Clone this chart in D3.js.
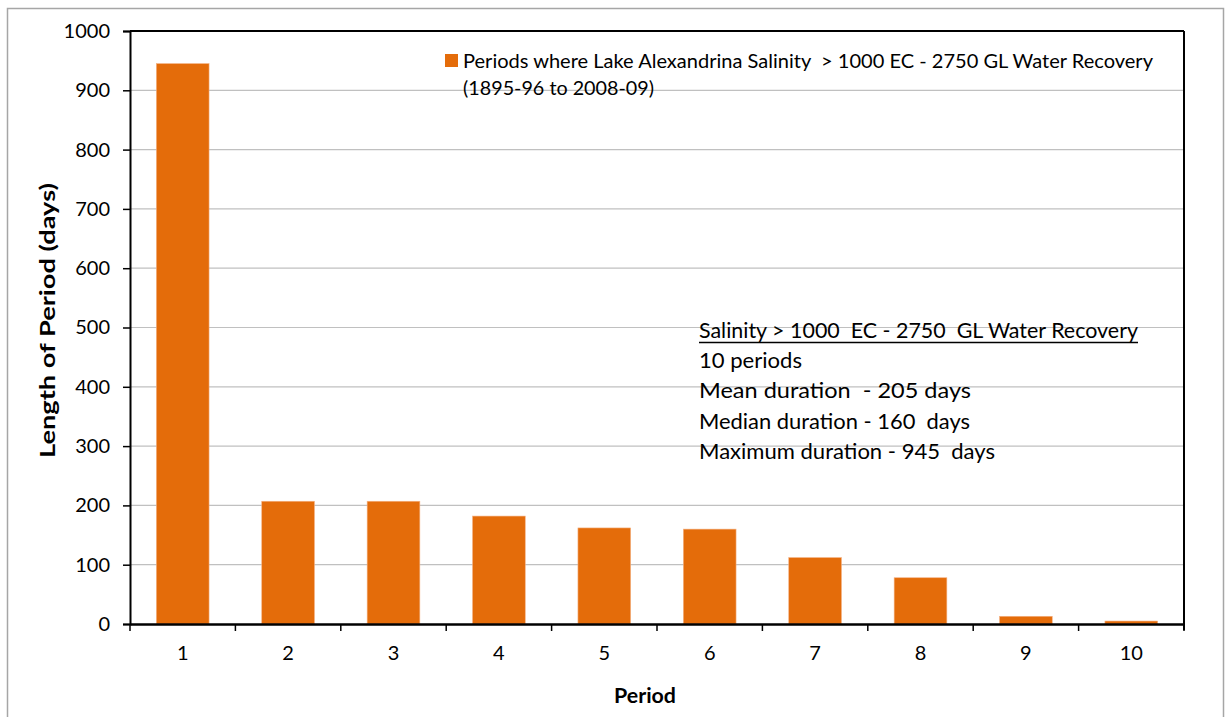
<!DOCTYPE html>
<html>
<head>
<meta charset="utf-8">
<script src="https://cdn.jsdelivr.net/npm/d3@7/dist/d3.min.js"></script>
<style>
  html, body { margin: 0; padding: 0; background: #fff; }
  svg { display: block; }
  text { font-family: Lato, "Open Sans", sans-serif; fill: #000; }
</style>
</head>
<body>
<svg id="chart" width="1227" height="717"></svg>
<script>
// ---- data ----
const categories = ["1", "2", "3", "4", "5", "6", "7", "8", "9", "10"];
const values = [945, 207, 207, 182, 162, 160, 112, 78, 13, 5];
const yTicks = [0, 100, 200, 300, 400, 500, 600, 700, 800, 900, 1000];
const seriesName = "Periods where Lake Alexandrina Salinity  > 1000 EC - 2750 GL Water Recovery";
const seriesSub = "(1895-96 to 2008-09)";
const noteLines = [
  "Salinity > 1000  EC - 2750  GL Water Recovery",
  "10 periods",
  "Mean duration  - 205 days",
  "Median duration - 160  days",
  "Maximum duration - 945  days"
];
const yTitle = "Length of Period (days)";
const xTitle = "Period";

// ---- layout ----
const svg = d3.select("#chart");
const L = 130, R = 1184, T = 31, B = 624;
const barColor = "#E46C0A";
const noteWidths = [439, 103, 272, 271, 296];

// outer chart border
svg.append("rect")
  .attr("x", 7.5).attr("y", 8.5).attr("width", 1216).attr("height", 720)
  .attr("fill", "#fff").attr("stroke", "#a6a6a6").attr("stroke-width", 1.5);

const x = d3.scaleBand().domain(categories).range([L, R]).paddingInner(0.5).paddingOuter(0.25);
const y = d3.scaleLinear().domain([0, 1000]).range([B, T]);

// gridlines
svg.append("g").selectAll("line").data(yTicks.filter(d => d > 0 && d < 1000)).join("line")
  .attr("x1", L).attr("x2", R)
  .attr("y1", d => y(d)).attr("y2", d => y(d))
  .attr("stroke", "#c0c0c0").attr("stroke-width", 1.2);

// bars
svg.append("g").selectAll("rect").data(values).join("rect")
  .attr("x", (d, i) => x(categories[i]))
  .attr("y", d => y(d))
  .attr("width", x.bandwidth())
  .attr("height", d => B - y(d))
  .attr("fill", barColor)
  .attr("stroke", "#f4b183").attr("stroke-width", 0.6);

// plot-area top & right border
svg.append("line").attr("x1", L).attr("x2", R).attr("y1", T).attr("y2", T)
  .attr("stroke", "#000").attr("stroke-width", 2);
svg.append("line").attr("x1", R).attr("x2", R).attr("y1", T).attr("y2", B + 6)
  .attr("stroke", "#000").attr("stroke-width", 2);

// y axis
const yAxis = d3.axisLeft(y).tickValues(yTicks).tickSize(7).tickPadding(13).tickFormat(d3.format("d"));
const gy = svg.append("g").attr("transform", `translate(${L},0)`).call(yAxis);
gy.select(".domain").attr("stroke", "#000").attr("stroke-width", 2);
gy.selectAll(".tick line").attr("stroke", "#000").attr("stroke-width", 1.5);
gy.selectAll(".tick text").attr("font-size", 20).attr("font-family", "Lato, sans-serif").attr("fill", "#000");

// x axis: ticks between categories
const xAxis = d3.axisBottom(x).tickSize(0).tickPadding(22);
const gx = svg.append("g").attr("transform", `translate(0,${B})`).call(xAxis);
gx.select(".domain").attr("stroke", "#000").attr("stroke-width", 2.4);
gx.selectAll(".tick text").attr("font-size", 20).attr("font-family", "Lato, sans-serif").attr("fill", "#000");
const bounds = categories.map(c => x(c) - x.step() * x.paddingInner() / 2).concat([R]);
svg.append("g").selectAll("line").data(bounds).join("line")
  .attr("x1", d => d).attr("x2", d => d)
  .attr("y1", B).attr("y2", B + 7)
  .attr("stroke", "#000").attr("stroke-width", 1.5);

// axis titles
svg.append("text")
  .attr("transform", `translate(55,${(183 + 458) / 2}) rotate(-90)`)
  .attr("text-anchor", "middle")
  .attr("font-size", 21).attr("font-weight", "bold")
  .attr("textLength", 275).attr("lengthAdjust", "spacingAndGlyphs")
  .text(yTitle);
svg.append("text")
  .attr("x", 645).attr("y", 703)
  .attr("text-anchor", "middle")
  .attr("font-size", 20).attr("font-weight", "bold")
  .attr("textLength", 62).attr("lengthAdjust", "spacingAndGlyphs")
  .text(xTitle);

// legend
svg.append("rect").attr("x", 445).attr("y", 54).attr("width", 13).attr("height", 13).attr("fill", barColor);
svg.append("text").attr("x", 463).attr("y", 67.5)
  .attr("font-size", 18.5).style("white-space", "pre")
  .attr("textLength", 690).attr("lengthAdjust", "spacingAndGlyphs")
  .text(seriesName);
svg.append("text").attr("x", 463).attr("y", 95)
  .attr("font-size", 18.5)
  .attr("textLength", 191).attr("lengthAdjust", "spacingAndGlyphs")
  .text(seriesSub);

// annotation
const noteX = 699;
noteLines.forEach((t, i) => {
  svg.append("text").attr("x", noteX).attr("y", 338 + i * 30.2)
    .attr("font-size", 21).style("white-space", "pre")
    .attr("textLength", noteWidths[i]).attr("lengthAdjust", "spacingAndGlyphs")
    .text(t);
});
svg.append("line").attr("x1", noteX).attr("x2", noteX + noteWidths[0])
  .attr("y1", 342.5).attr("y2", 342.5).attr("stroke", "#000").attr("stroke-width", 1.3);
</script>
</body>
</html>
